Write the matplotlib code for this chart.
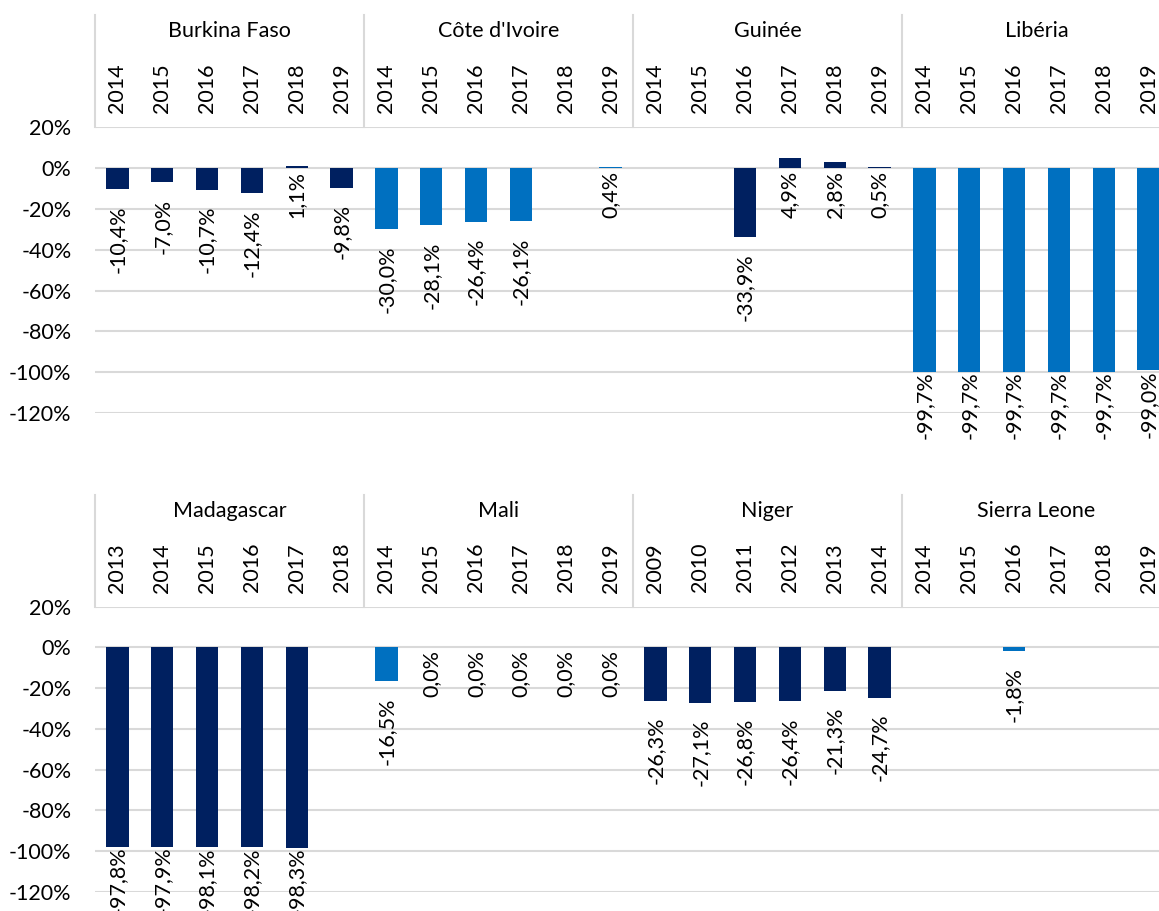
import numpy as np
import matplotlib
matplotlib.use("Agg")
import matplotlib.pyplot as plt
from matplotlib.transforms import blended_transform_factory

plt.rcParams['font.family'] = ['Lato', 'DejaVu Sans']

nan = np.nan
DARK = '#002060'
BLUE = '#0070C0'
GRID = '#D9D9D9'

# ---- Top panel ----
top_countries = ["Burkina Faso", "Côte d'Ivoire", "Guinée", "Libéria"]
top_years = [
    ["2014", "2015", "2016", "2017", "2018", "2019"],
    ["2014", "2015", "2016", "2017", "2018", "2019"],
    ["2014", "2015", "2016", "2017", "2018", "2019"],
    ["2014", "2015", "2016", "2017", "2018", "2019"],
]
burkina = [-10.4, -7.0, -10.7, -12.4, 1.1, -9.8]
cote_ivoire = [-30.0, -28.1, -26.4, -26.1, nan, 0.4]
guinee = [nan, nan, -33.9, 4.9, 2.8, 0.5]
liberia = [-99.7, -99.7, -99.7, -99.7, -99.7, -99.0]
top_values = [burkina, cote_ivoire, guinee, liberia]
top_colors = [DARK, BLUE, DARK, BLUE]

# ---- Bottom panel ----
bot_countries = ["Madagascar", "Mali", "Niger", "Sierra Leone"]
bot_years = [
    ["2013", "2014", "2015", "2016", "2017", "2018"],
    ["2014", "2015", "2016", "2017", "2018", "2019"],
    ["2009", "2010", "2011", "2012", "2013", "2014"],
    ["2014", "2015", "2016", "2017", "2018", "2019"],
]
madagascar = [-97.8, -97.9, -98.1, -98.2, -98.3, nan]
mali = [-16.5, 0.0, 0.0, 0.0, 0.0, 0.0]
niger = [-26.3, -27.1, -26.8, -26.4, -21.3, -24.7]
sierra_leone = [nan, nan, -1.8, nan, nan, nan]
bot_values = [madagascar, mali, niger, sierra_leone]
bot_colors = [DARK, BLUE, DARK, BLUE]

yticks = [20, 0, -20, -40, -60, -80, -100, -120]

W, H = 1159, 911
fig = plt.figure(figsize=(W / 100, H / 100), dpi=100)

FS = 15.5


def fmt(v):
    return f"{v:.1f}".replace('.', ',') + '%'


def panel(rect, countries, years, values, colors):
    left, top_px, bottom_px = rect
    ax = fig.add_axes([left / W, 1 - bottom_px / H, 1076 / W, (bottom_px - top_px) / H])
    n = sum(len(y) for y in years)
    ax.set_xlim(-0.5, n - 0.5)
    ax.set_ylim(-120, 20)
    ax.set_yticks(yticks)
    ax.set_yticklabels([f"{t}%" for t in yticks], fontsize=FS)
    ax.tick_params(axis='y', length=0, pad=17)
    ax.set_xticks([])
    for s in ax.spines.values():
        s.set_visible(False)
    for t in yticks:
        ax.axhline(t, color=GRID, lw=1.5, zorder=0)
    trans = blended_transform_factory(ax.transData, ax.transAxes)
    idx = 0
    for c, yrs, vals, col in zip(countries, years, values, colors):
        start = idx
        xs = np.arange(start, start + len(yrs))
        v = np.array(vals, dtype=float)
        ax.bar(xs, np.nan_to_num(v), width=0.5, color=col, zorder=2)
        for x, val, yr in zip(xs, v, yrs):
            ax.annotate(yr, xy=(x, 1), xycoords=trans, xytext=(0, 39),
                        textcoords='offset pixels', rotation=90,
                        ha='center', va='center', fontsize=FS, annotation_clip=False)
            if np.isnan(val):
                continue
            if val >= 0:
                ax.annotate(fmt(val), xy=(x, 0), xytext=(0, -3),
                            textcoords='offset pixels', rotation=90,
                            ha='center', va='top', fontsize=FS, annotation_clip=False)
            else:
                gap = 0 if val < -90 else 16
                ax.annotate(fmt(val), xy=(x, val), xytext=(0, -gap),
                            textcoords='offset pixels', rotation=90,
                            ha='center', va='top', fontsize=FS, annotation_clip=False)
        center = start + (len(yrs) - 1) / 2
        ax.annotate(c, xy=(center, 1), xycoords=trans, xytext=(0, 96),
                    textcoords='offset pixels', ha='center', va='center',
                    fontsize=FS, annotation_clip=False)
        idx += len(yrs)
    # vertical header lines
    for b in range(0, n + 1, 6):
        xb = b - 0.5
        ax.plot([xb, xb], [1, 1 + 112 / (bottom_px - top_px)], transform=trans,
                color=GRID, lw=1.5, clip_on=False, zorder=1)
    return ax


panel((95, 127.3, 413), top_countries, top_years, top_values, top_colors)
panel((95, 606.7, 891.7), bot_countries, bot_years, bot_values, bot_colors)

fig.savefig('out.png', dpi=100)
